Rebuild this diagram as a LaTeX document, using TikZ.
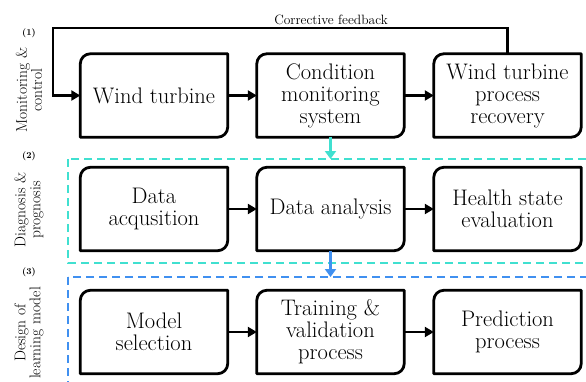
\documentclass[tikz,border=0pt]{standalone}
\usetikzlibrary{arrows.meta}
\definecolor{cyanc}{RGB}{64,224,208}
\definecolor{bluec}{RGB}{64,144,240}
\newcommand\tboxoutline[1]{\draw[boxline] (#1.south west) -- ([yshift=-10pt]#1.north west) arc[start angle=180,end angle=90,radius=10pt] -- (#1.north east) -- ([yshift=10pt]#1.south east) arc[start angle=0,end angle=-90,radius=10pt] -- cycle;}
\tikzset{
  tbox/.style={minimum width=147pt,minimum height=83pt,inner sep=0pt,align=center,font=\fontsize{22.5}{22}\selectfont},
  boxline/.style={line width=2.8pt,line join=round},
  arr/.style={line width=2.8pt,-{Triangle[length=9pt,width=10pt]}},
  arrc/.style={line width=2.8pt,draw=cyanc,-{Triangle[length=8pt,width=11pt]}},
  arrb/.style={line width=2.8pt,draw=bluec,-{Triangle[length=8pt,width=11pt]}},
  dashc/.style={draw=cyanc,line width=2.5pt,dash pattern=on 8pt off 5pt},
  dashb/.style={draw=bluec,line width=2.5pt,dash pattern=on 8pt off 5pt},
  side/.style={rotate=90,align=center,font=\fontsize{15.5}{15}\selectfont},
  num/.style={font=\fontsize{9}{10}\selectfont\bfseries},
  fblabel/.style={font=\fontsize{13.5}{15}\selectfont}
}
\begin{document}
\begin{tikzpicture}[x=1pt,y=1pt]
\useasboundingbox (0,0) rectangle (586,381);
\clip (0,0) rectangle (586,381);
% dashed regions
\draw[dashc] (68,222) rectangle (600,118);
\draw[dashb] (68,104) rectangle (600,-14);
% boxes
\node[tbox] (a1) at (154,285.5) {Wind turbine};
\node[tbox] (a2) at (330.5,285.5) {Condition\\monitoring\\system};
\node[tbox] (a3) at (507.5,285.5) {Wind turbine\\process\\recovery};
\node[tbox] (b1) at (154,172) {Data\\acqusition};
\node[tbox] (b2) at (330.5,172) {Data analysis};
\node[tbox] (b3) at (507.5,172) {Health state\\evaluation};
\node[tbox] (c1) at (154,49) {Model\\selection};
\node[tbox] (c2) at (330.5,49) {Training \&\\validation\\process};
\node[tbox] (c3) at (507.5,49) {Prediction\\process};
\foreach \n in {a1,a2,a3,b1,b2,b3,c1,c2,c3} {\tboxoutline{\n}}
% row connectors
\draw[arr] (a1.east) -- (a2.west);
\draw[arr] (a2.east) -- (a3.west);
\draw[arr] (b1.east) -- (b2.west);
\draw[arr] (b2.east) -- (b3.west);
\draw[arr] (c1.east) -- (c2.west);
\draw[arr] (c2.east) -- (c3.west);
% feedback
\coordinate (fbc) at (53,353);
\draw[line width=2.8pt,line join=miter,-{Triangle[length=9pt,width=10pt]}] (a3.north) |- (fbc) |- (a1.west);
\node[fblabel] (fbl) at (331,361) {Corrective feedback};
% vertical colored arrows
\coordinate (cyt) at (330.5,222);
\coordinate (blt) at (330.5,104);
\draw[arrc] (a2.south) -- (cyt);
\draw[arrb] (b2.south) -- (blt);
% side labels
\node[side] (s1) at (29,291) {Monitoring \&\\control};
\node[side] (s2) at (29,171) {Diagnosis \&\\prognosis};
\node[side] (s3) at (29,48) {Design of\\learning model};
\node[num] (n1) at (29,348) {(1)};
\node[num] (n2) at (29,225) {(2)};
\node[num] (n3) at (29,109) {(3)};
\end{tikzpicture}
\end{document}
